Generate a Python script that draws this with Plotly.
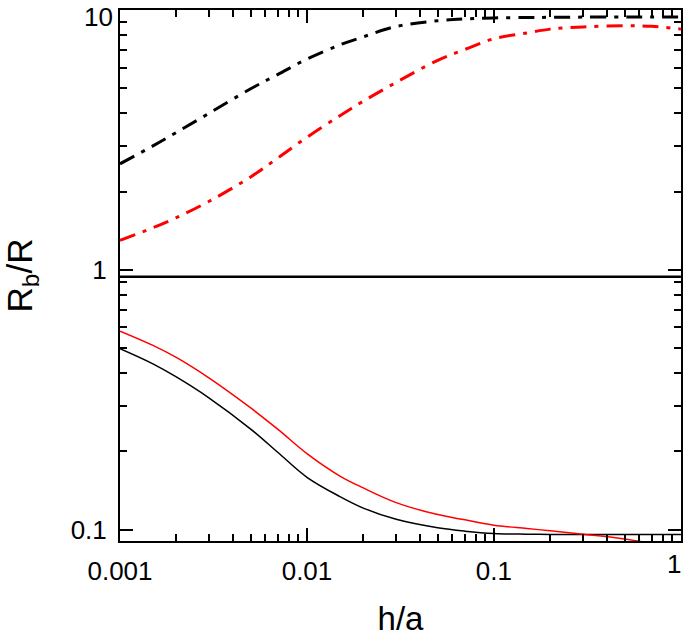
import plotly.graph_objects as go

# x values (h/a)
h_over_a = [0.001, 0.0015, 0.002, 0.003, 0.005, 0.007, 0.01, 0.015, 0.02, 0.03,
            0.05, 0.07, 0.1, 0.15, 0.2, 0.3, 0.5, 0.7, 1.0]

# upper curves (dash-dot)
black_upper = [2.56, 3.00, 3.38, 4.01, 4.98, 5.66, 6.48, 7.35, 7.89, 8.65,
               9.10, 9.25, 9.33, 9.37, 9.38, 9.40, 9.40, 9.40, 9.40]
red_upper = [1.30, 1.452, 1.588, 1.837, 2.28, 2.70, 3.24, 3.92, 4.46, 5.27,
             6.41, 7.06, 7.76, 8.17, 8.45, 8.62, 8.70, 8.66, 8.45]

# lower curves (solid)
black_lower = [0.497, 0.4345, 0.387, 0.321, 0.2438, 0.198, 0.159, 0.134, 0.121, 0.1095,
               0.1016, 0.0986, 0.0966, 0.0960, 0.0958, 0.0957, 0.0957, 0.0957, 0.0957]
red_lower = [0.581, 0.512, 0.460, 0.383, 0.294, 0.243, 0.196, 0.1607, 0.1447, 0.127,
             0.1142, 0.109, 0.104, 0.101, 0.0989, 0.0959, 0.0920, 0.0885, 0.085]

# horizontal reference level
unity_level = 0.94

x_major = [0.001, 0.01, 0.1, 1]
x_major_text = ["0.001", "0.01", "0.1", "1"]
y_major = [0.1, 1, 10]
y_major_text = ["0.1", "1", "10"]

x_minor = [m * d for d in (0.001, 0.01, 0.1) for m in range(2, 10)]
y_minor = [m * d for d in (0.1, 1) for m in range(2, 10)]

dashdot = "16px,8px,4px,8px"
fig = go.Figure()
fig.add_trace(go.Scatter(x=h_over_a, y=black_upper, mode="lines", line_shape="spline",
                         line=dict(color="black", width=3, dash=dashdot)))
fig.add_trace(go.Scatter(x=h_over_a, y=red_upper, mode="lines", line_shape="spline",
                         line=dict(color="#ff0000", width=3, dash=dashdot)))
fig.add_trace(go.Scatter(x=[h_over_a[0], h_over_a[-1]], y=[unity_level, unity_level],
                         mode="lines", line=dict(color="black", width=2.5)))
fig.add_trace(go.Scatter(x=h_over_a, y=black_lower, mode="lines", line_shape="spline",
                         line=dict(color="black", width=1.5)))
fig.add_trace(go.Scatter(x=h_over_a, y=red_lower, mode="lines", line_shape="spline",
                         line=dict(color="#ff0000", width=1.5)))

font = "Liberation Sans, Arial, sans-serif"
# the last x tick label sits on the page edge: show it as an annotation kept inside the page
x_ticktext_axis = x_major_text[:-1] + [""]
fig.add_annotation(text=x_major_text[-1], xref="paper", x=1, yref="paper", y=0,
                   xanchor="right", yanchor="top", xshift=2, yshift=-6,
                   showarrow=False, font=dict(family=font, size=26, color="black"))
# same for the top y tick label
y_ticktext_axis = y_major_text[:-1] + [""]
fig.add_annotation(text=y_major_text[-1], xref="paper", x=0, yref="paper", y=1,
                   xanchor="right", yanchor="top", xshift=-5, yshift=10,
                   showarrow=False, font=dict(family=font, size=26, color="black"))

fig.update_layout(
    width=685, height=637,
    margin=dict(l=114, r=2, t=10, b=96),
    paper_bgcolor="white", plot_bgcolor="white",
    showlegend=False,
    hovermode=False,
    font=dict(family=font, color="black", size=26),
    xaxis=dict(
        type="log", range=[-3, 0.0005],
        tickmode="array", tickvals=x_major, ticktext=x_ticktext_axis,
        ticks="inside", ticklen=13, tickwidth=1.5, tickcolor="black",
        showline=True, linecolor="black", linewidth=2, mirror="ticks",
        showgrid=False, zeroline=False,
        ticklabelstandoff=6,
        tickfont=dict(size=26),
        minor=dict(tickmode="array", tickvals=x_minor, ticks="inside",
                   ticklen=7, tickwidth=1.5, tickcolor="black", showgrid=False),
        title=dict(text="h/a", font=dict(size=33), standoff=24),
    ),
    yaxis=dict(
        type="log", range=[-1.044, 1.0005],
        tickmode="array", tickvals=y_major, ticktext=y_ticktext_axis,
        ticks="inside", ticklen=13, tickwidth=1.5, tickcolor="black",
        showline=True, linecolor="black", linewidth=2, mirror="ticks",
        showgrid=False, zeroline=False,
        ticklabelstandoff=6,
        tickfont=dict(size=26),
        minor=dict(tickmode="array", tickvals=y_minor, ticks="inside",
                   ticklen=7, tickwidth=1.5, tickcolor="black", showgrid=False),
        title=dict(text="R<sub>b</sub>/R", font=dict(size=35), standoff=44),
    ),
)

# Remove the default 8px page margin synchronously (right after the plot call),
# so the 685x637 figure fills the browser window exactly.
no_margin = ("}); document.body.style.margin='0'; "
             "document.documentElement.style.overflow='hidden'; (function(){")
fig.write_html("out.html", config={"displayModeBar": False}, post_script=no_margin)
